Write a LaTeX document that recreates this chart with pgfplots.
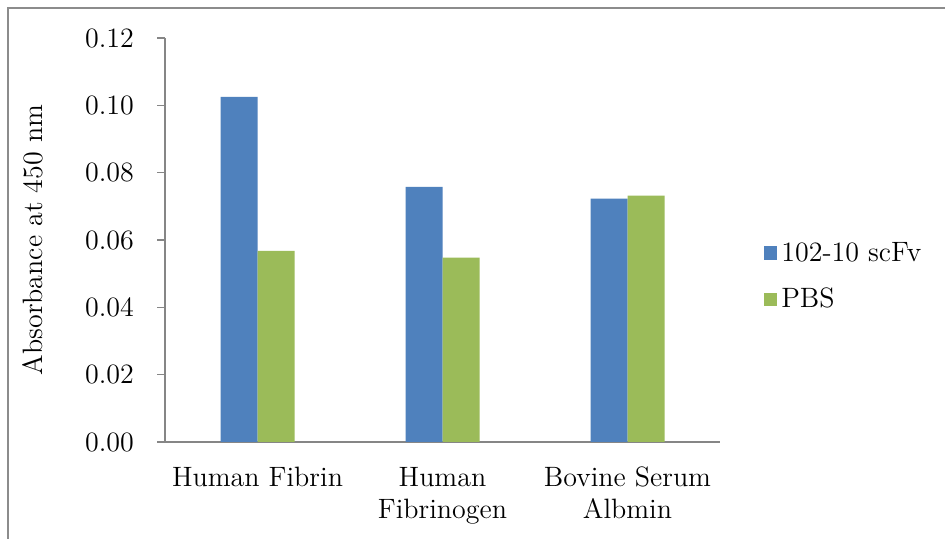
\documentclass[border=0pt]{standalone}
\usepackage{pgfplots}
\pgfplotsset{compat=1.18}

\definecolor{scfvblue}{HTML}{4F81BD}
\definecolor{pbsgreen}{HTML}{9BBB59}
\definecolor{axisgray}{HTML}{868686}
\definecolor{framegray}{HTML}{8C8C8C}

\begin{document}
\begin{tikzpicture}
  % canvas: 1 px = 0.5 pt
  \useasboundingbox (0,0) rectangle (472.5pt,269.5pt);
  \fill[white] (0,0) rectangle (472.5pt,269.5pt);
  \draw[framegray, line width=0.9pt] (4pt,0) -- (4pt,265.5pt) -- (472.5pt,265.5pt);

  \begin{axis}[
    at={(82.5pt,48.5pt)}, anchor=south west,
    scale only axis,
    width=277.5pt, height=202pt,
    xmin=-0.5, xmax=2.5,
    ymin=0, ymax=0.12,
    axis x line*=bottom, axis y line*=left,
    axis line style={axisgray, line width=0.8pt},
    ytick={0,0.02,...,0.12},
    /pgf/number format/fixed,
    /pgf/number format/fixed zerofill,
    /pgf/number format/precision=2,
    /pgf/number format/assume math mode=true,
    yticklabel style={font=\fontsize{14}{15}\selectfont, xshift=-8pt},
    tick align=outside,
    major tick length=4pt,
    tick style={axisgray, line width=0.8pt},
    xtick={0,1,2},
    xtick style={draw=none},
    xticklabels={Human Fibrin, Human\\Fibrinogen, Bovine Serum\\Albmin},
    xticklabel style={font=\fontsize{14}{16}\selectfont, align=center, yshift=-5pt},
    ylabel={Absorbance at 450 nm},
    ylabel style={font=\fontsize{14}{15}\selectfont,
      at={(axis description cs:-0.238,0.5)}, anchor=center, rotate=0},
    ybar, bar width=0.2,
    legend style={at={(1.068,0.41)}, anchor=west, draw=none,
      font=\fontsize{14}{15}\selectfont, row sep=8pt,
      legend cell align=left},
    legend image code/.code={\fill[#1] (0pt,-3.3pt) rectangle (6.6pt,3.3pt);},
  ]
    \addplot[fill=scfvblue, draw=none, bar shift=-0.1]
      coordinates {(0,0.1025) (1,0.0758) (2,0.0723)};
    \addplot[fill=pbsgreen, draw=none, bar shift=0.1]
      coordinates {(0,0.0568) (1,0.0548) (2,0.0732)};
    \legend{102-10 scFv, PBS}
  \end{axis}
\end{tikzpicture}
\end{document}
